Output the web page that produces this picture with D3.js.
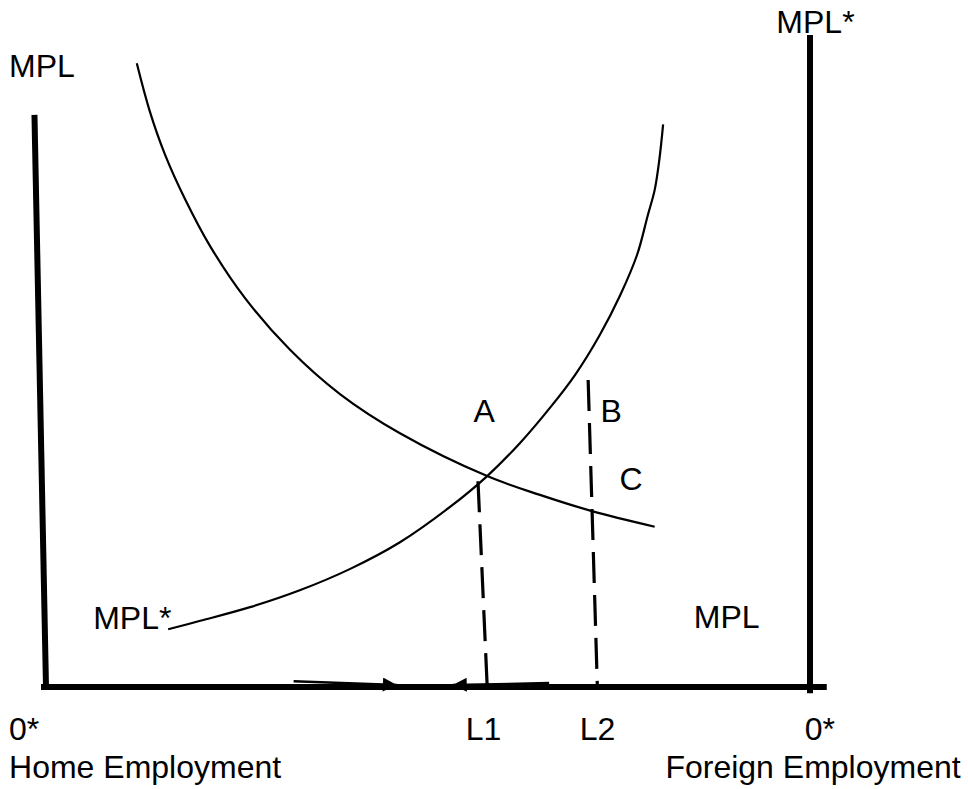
<!DOCTYPE html>
<meta charset="utf-8">
<script src="https://d3js.org/d3.v7.min.js"></script>
<style>
  body { margin: 0; background: #fff; }
  text { font-family: "Liberation Sans", Arial, sans-serif; font-size: 32px; fill: #000; }
</style>
<div id="chart"></div>
<script>
    // schematic units: x = labour split (0 = home origin, 100 = foreign origin), y = marginal product
    var mplHome = [
        [12.0, 96.1], [13.7, 88.7], [15.7, 82.0], [18.3, 75.2], [21.6, 67.9],
        [26.1, 60.0], [32.0, 52.0], [38.6, 45.1], [46.4, 39.1], [57.8, 32.5],
        [64.7, 29.6], [71.5, 27.1], [79.7, 24.7]
    ];
    var mplForeign = [
        [16.1, 8.9], [20.3, 10.2], [26.8, 12.3], [33.3, 14.9], [39.9, 18.2],
        [46.4, 22.3], [52.9, 27.7], [57.8, 32.5], [62.1, 37.6], [66.0, 43.0],
        [69.3, 48.1], [72.5, 54.2], [75.2, 60.4], [77.4, 66.6], [78.8, 72.7],
        [79.7, 76.6], [80.3, 81.2], [80.8, 86.7]
    ];
    var axesLines = [
        [[-1.37, 87.7], [0.13, 0]],    // home MPL axis
        [[-0.13, 0], [101.8, 0]],      // employment axis
        [[100, 100], [100, -0.5]]      // foreign MPL* axis
    ];
    var dropLines = [
        [[56.6, 31.7], [57.8, 0.15]],  // L1
        [[71.0, 47.3], [72.2, 0.15]]   // L2
    ];
    var arrows = [
        [[32.5, 0.9], [46.0, 0.3]],
        [[65.9, 0.6], [53.3, 0.3]]
    ];
    var labels = [
        {t: "MPL", x: -4.7, y: 94.0},
        {t: "MPL*", x: 95.6, y: 100.8},
        {t: "MPL*", x: 6.3, y: 8.9},
        {t: "MPL", x: 84.8, y: 9.1},
        {t: "A", x: 56.0, y: 40.8},
        {t: "B", x: 72.6, y: 40.8},
        {t: "C", x: 75.1, y: 30.4},
        {t: "0*", x: -4.7, y: -8.2},
        {t: "L1", x: 55.0, y: -8.2},
        {t: "L2", x: 69.9, y: -8.2},
        {t: "0*", x: 99.3, y: -8.2},
        {t: "Home Employment", x: -4.7, y: -14.0},
        {t: "Foreign Employment", x: 81.1, y: -14.0}
    ];

    var width = 968, height = 789;

    var svg = d3.select("#chart")
        .append("svg")
            .attr("width", width)
            .attr("height", height);

    var x = d3.scaleLinear().domain([0, 100]).range([45, 810]),
        y = d3.scaleLinear().domain([0, 100]).range([687, 38]);

    var line = d3.line()
        .x(function(d) { return x(d[0]); })
        .y(function(d) { return y(d[1]); });

    var curve = d3.line()
        .x(function(d) { return x(d[0]); })
        .y(function(d) { return y(d[1]); })
        .curve(d3.curveCatmullRom.alpha(0.5));

    svg.append("defs").append("marker")
        .attr("id", "head")
        .attr("viewBox", "0 0 10 10")
        .attr("refX", 10)
        .attr("refY", 5)
        .attr("markerUnits", "userSpaceOnUse")
        .attr("markerWidth", 15)
        .attr("markerHeight", 14)
        .attr("orient", "auto")
      .append("path")
        .attr("d", "M0,0 L10,5 L0,10 Z")
        .attr("fill", "#000");

    svg.selectAll(".axisline")
        .data(axesLines)
      .enter().append("path")
        .attr("class", "axisline")
        .attr("d", line)
        .attr("fill", "none")
        .attr("stroke", "#000")
        .attr("stroke-width", 6)
        .attr("stroke-linecap", "square");

    svg.selectAll(".curve")
        .data([mplHome, mplForeign])
      .enter().append("path")
        .attr("class", "curve")
        .attr("d", curve)
        .attr("fill", "none")
        .attr("stroke", "#000")
        .attr("stroke-width", 2.2);

    svg.selectAll(".drop")
        .data(dropLines)
      .enter().append("path")
        .attr("class", "drop")
        .attr("d", line)
        .attr("fill", "none")
        .attr("stroke", "#000")
        .attr("stroke-width", 3.2)
        .attr("stroke-dasharray", "31,12");

    svg.selectAll(".arrow")
        .data(arrows)
      .enter().append("path")
        .attr("class", "arrow")
        .attr("d", line)
        .attr("fill", "none")
        .attr("stroke", "#000")
        .attr("stroke-width", 2.5)
        .attr("marker-end", "url(#head)");

    svg.selectAll(".label")
        .data(labels)
      .enter().append("text")
        .attr("class", "label")
        .attr("x", function(d) { return x(d.x); })
        .attr("y", function(d) { return y(d.y); })
        .text(function(d) { return d.t; });
</script>
